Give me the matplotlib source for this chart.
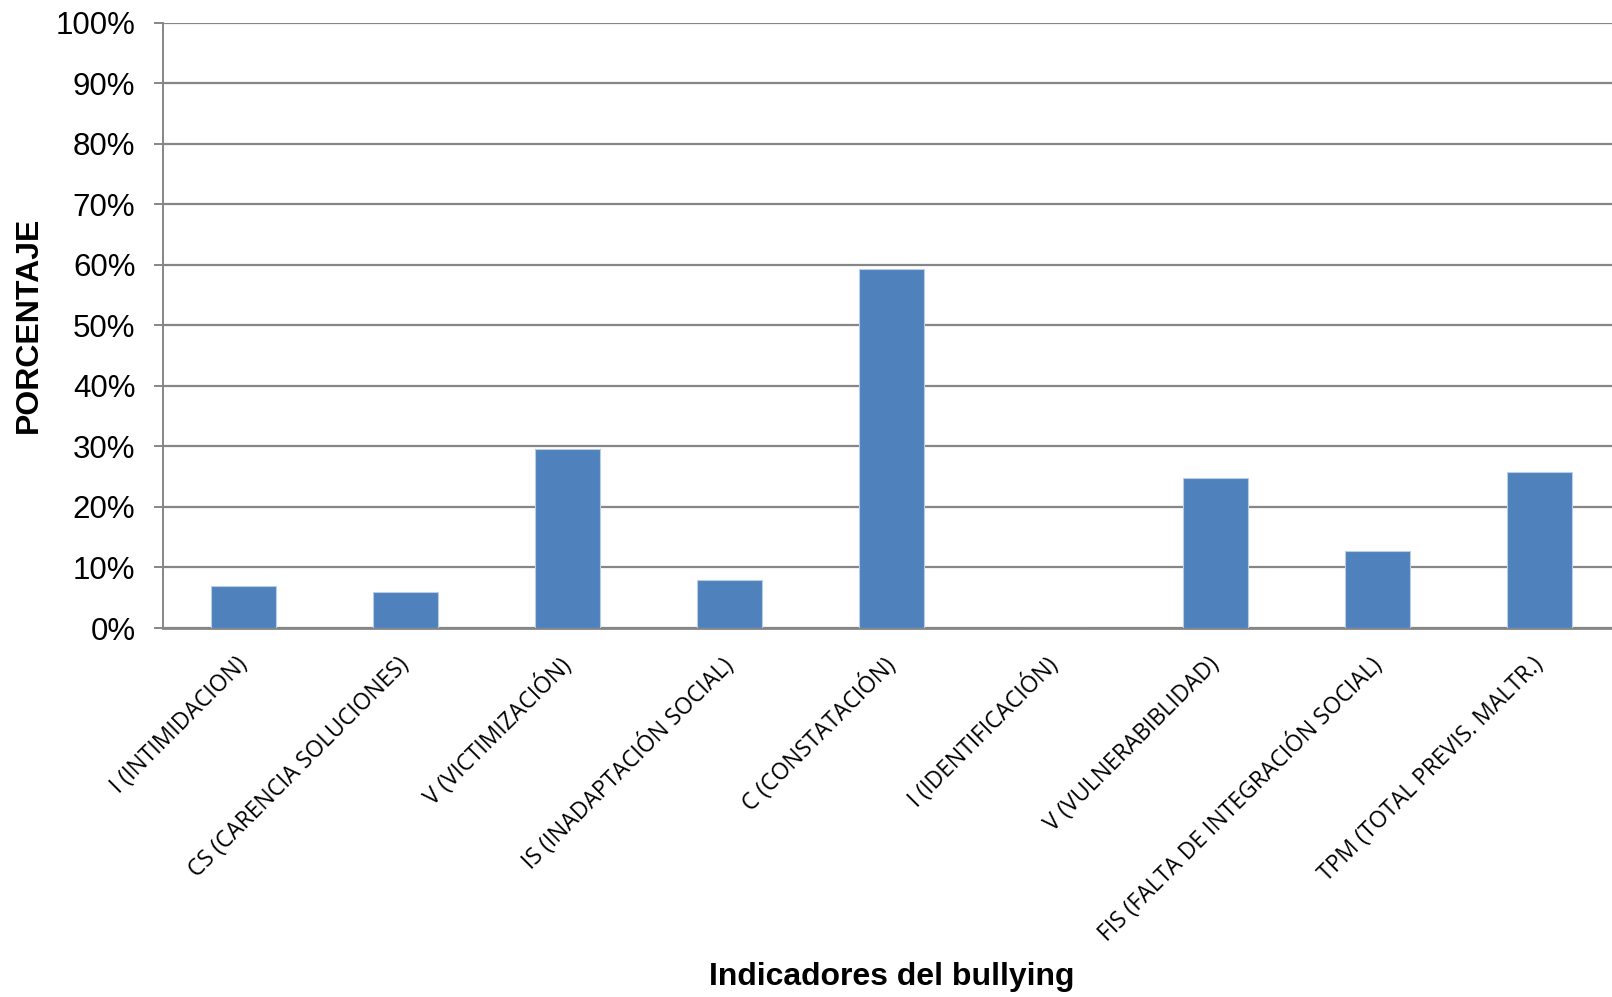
import matplotlib
matplotlib.use("Agg")
import matplotlib.pyplot as plt
from matplotlib.ticker import FuncFormatter

categories = [
    "I (INTIMIDACION)",
    "CS (CARENCIA SOLUCIONES)",
    "V (VICTIMIZACIÓN)",
    "IS (INADAPTACIÓN SOCIAL)",
    "C (CONSTATACIÓN)",
    "I (IDENTIFICACIÓN)",
    "V (VULNERABIBLIDAD)",
    "FIS (FALTA DE INTEGRACIÓN SOCIAL)",
    "TPM (TOTAL PREVIS. MALTR.)",
]
values = [6.9, 5.9, 29.6, 7.9, 59.3, 0.0, 24.7, 12.8, 25.7]
y_ticks = list(range(0, 101, 10))

W, H = 1612, 997
fig = plt.figure(figsize=(W / 100, H / 100), dpi=100)
left = 162.5 / W
right = 1620.5 / W
bottom = 1 - 628 / H
top = 1 - 22.6 / H
ax = fig.add_axes([left, bottom, right - left, top - bottom])

x = list(range(len(categories)))
ax.bar(x, values, width=0.4, color="#4F81BD", edgecolor="#B9CDE5", linewidth=0.8, zorder=3)

ax.set_xlim(-0.5, len(categories) - 0.5)
ax.set_ylim(0, 100)
ax.set_yticks(y_ticks)
ax.yaxis.set_major_formatter(FuncFormatter(lambda v, p: f"{int(v)}%"))
ax.grid(axis="y", color="#868686", linewidth=1.6, zorder=0)
ax.set_axisbelow(True)

for s in ["top", "right"]:
    ax.spines[s].set_visible(False)
ax.spines["left"].set_color("#868686")
ax.spines["left"].set_linewidth(1.4)
ax.spines["bottom"].set_color("#868686")
ax.spines["bottom"].set_linewidth(2.0)

ax.tick_params(axis="y", length=6.5, width=1.4, color="#868686", pad=13,
               labelsize=22.5)
for lab in ax.get_yticklabels():
    lab.set_fontfamily("Liberation Sans")

ax.set_xticks(x)
ax.set_xticklabels(categories, rotation=45, ha="right", va="center",
                   rotation_mode="anchor", fontsize=16.5, fontfamily="Open Sans")
ax.tick_params(axis="x", length=0, pad=24)

fig.text(29 / W, 1 - 325 / H, "PORCENTAJE", rotation=90, ha="center", va="center",
         fontsize=23, fontweight="bold", fontfamily="Liberation Sans")
fig.text(891.5 / W, 1 - 977 / H, "Indicadores del bullying",
         ha="center", va="center", fontsize=23, fontweight="bold",
         fontfamily="Liberation Sans")

fig.savefig("out.png", dpi=100, facecolor="white")
